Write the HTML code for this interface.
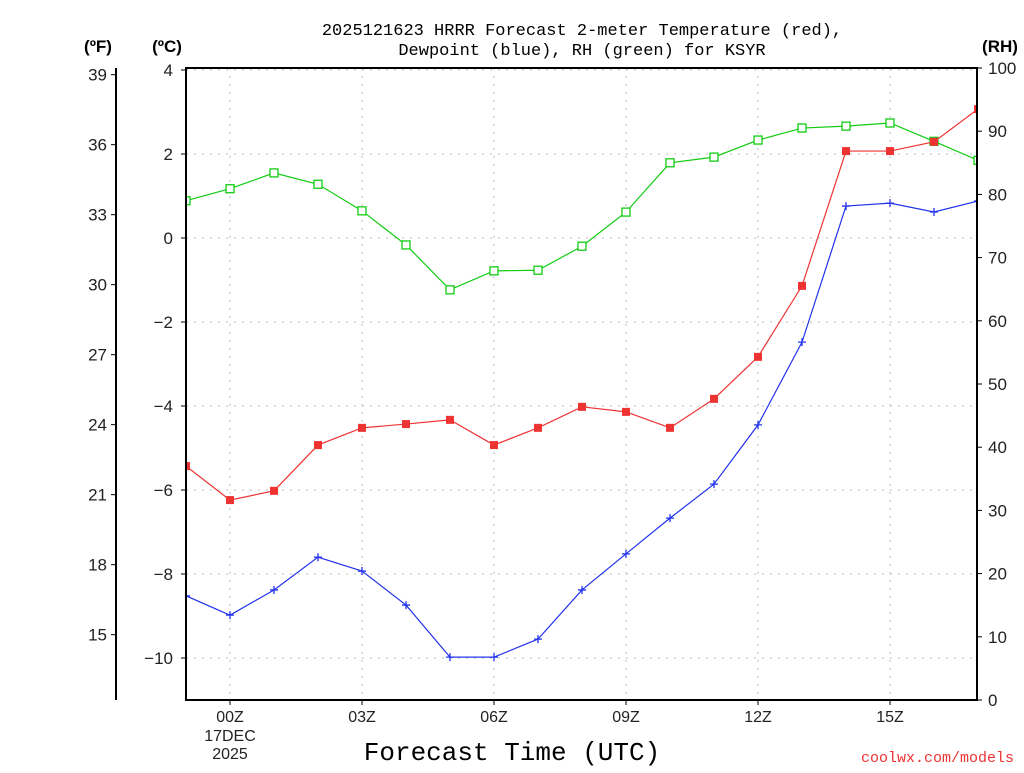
<!DOCTYPE html>
<html><head><meta charset="utf-8"><style>body{margin:0;background:#fff}svg text{font-family:"Liberation Sans","DejaVu Sans",sans-serif}svg text.mono{font-family:"Liberation Mono","DejaVu Sans Mono",monospace}</style></head>
<body>
<svg id="c" width="1024" height="768" xmlns="http://www.w3.org/2000/svg"></svg>
<script>
const hours=[-1,0,1,2,3,4,5,6,7,8,9,10,11,12,13,14,15,16,17];
const tempC=[-5.43,-6.24,-6.02,-4.93,-4.52,-4.43,-4.33,-4.93,-4.52,-4.02,-4.14,-4.52,-3.83,-2.83,-1.14,2.07,2.07,2.29,3.07];
const dewC=[-8.52,-8.98,-8.38,-7.6,-7.93,-8.74,-9.98,-9.98,-9.55,-8.38,-7.52,-6.67,-5.86,-4.45,-2.48,0.76,0.83,0.62,0.88];
const rh=[79.0,80.9,83.4,81.6,77.4,72.0,64.9,67.9,68.0,71.8,77.2,85.0,85.9,88.6,90.5,90.8,91.3,88.4,85.4];
const cTicks=[-10,-8,-6,-4,-2,0,2,4];
const fTicks=[15,18,21,24,27,30,33,36,39];
const rhTicks=[0,10,20,30,40,50,60,70,80,90,100];
const xTicks=[0,3,6,9,12,15];
const xLabels=["00Z","03Z","06Z","09Z","12Z","15Z"];
const L=186,R=977,T=68,B=700;
const X=h=>230+(h)*44;
const YC=c=>238-c*42;
const YF=f=>YC((f-32)*5/9);
const YR=r=>B-r*6.32;
const s=document.getElementById('c');const NS="http://www.w3.org/2000/svg";
function el(t,a,txt,par){const e=document.createElementNS(NS,t);for(const k in a)e.setAttribute(k,a[k]);if(txt!==undefined)e.textContent=txt;(par||s).appendChild(e);return e;}
const d=el('defs',{});const cp=el('clipPath',{id:'cl'},undefined,d);el('rect',{x:L,y:T,width:R-L,height:B-T},undefined,cp);
xTicks.forEach(h=>{const e=el('line',{x1:X(h),x2:X(h),y1:T,y2:B,stroke:'#bbb','stroke-dasharray':'2,6'});});
cTicks.forEach(c=>{const e=el('line',{x1:L,x2:R,y1:YC(c),y2:YC(c),stroke:'#bbb','stroke-dasharray':'2,6'});});
let fa=el('line',{x1:116,x2:116,y1:T,y2:B,stroke:'#000','stroke-width':2});
cTicks.forEach(c=>{el('line',{x1:181,x2:L,y1:YC(c),y2:YC(c),stroke:'#000'});const t=el('text',{x:173,y:YC(c)+6,'text-anchor':'end','font-size':17,fill:'#222'},c<0?'\u2212'+(-c):c);});
fTicks.forEach(v=>{el('line',{x1:111,x2:116,y1:YF(v),y2:YF(v),stroke:'#000'});const t=el('text',{x:107,y:YF(v)+6,'text-anchor':'end','font-size':17,fill:'#222'},v);});
rhTicks.forEach(v=>{el('line',{x1:R,x2:R+5,y1:YR(v),y2:YR(v),stroke:'#000'});const t=el('text',{x:988,y:YR(v)+6,'font-size':17,fill:'#222'},v);});
xTicks.forEach((h,i)=>{el('line',{x1:X(h),x2:X(h),y1:B,y2:B+5,stroke:'#000'});const t=el('text',{x:X(h),y:722,'text-anchor':'middle','font-size':16,fill:'#222'},xLabels[i]);});
[["17DEC",741],["2025",759]].forEach(a=>{const t=el('text',{x:230,y:a[1],'text-anchor':'middle','font-size':16,fill:'#222'},a[0]);});
[["(ºF)",98],["(ºC)",167]].forEach(a=>{const t=el('text',{x:a[1],y:52,'text-anchor':'middle','font-size':17,'font-weight':'bold'},a[0]);});
let u=el('text',{x:1000,y:52,'text-anchor':'middle','font-size':17,'font-weight':'bold'},'(RH)');
let t1=el('text',{x:582,y:35,'text-anchor':'middle','font-size':17,class:'mono'},'2025121623 HRRR Forecast 2-meter Temperature (red),');
let t2=el('text',{x:582,y:55,'text-anchor':'middle','font-size':17,class:'mono'},'Dewpoint (blue), RH (green) for KSYR');
let xt=el('text',{x:512,y:760,'text-anchor':'middle','font-size':26,class:'mono'},'Forecast Time (UTC)');
let cr=el('text',{x:1014,y:762,'text-anchor':'end','font-size':15,fill:'#e33',class:'mono'},'coolwx.com/models');
const g=el('g',{'clip-path':'url(#cl)'});
function series(vals,yf,col,name,mk){
 const p=el('polyline',{points:hours.map((h,i)=>X(h)+','+yf(vals[i])).join(' '),fill:'none',stroke:col,'stroke-width':1.2},undefined,g);
 
 hours.forEach((h,i)=>{const x=X(h),y=yf(vals[i]);let m;
  if(mk==='fill')m=el('rect',{x:x-4,y:y-4,width:8,height:8,fill:col},undefined,g);
  else if(mk==='open')m=el('rect',{x:x-4,y:y-4,width:8,height:8,fill:'#fff',stroke:col,'stroke-width':1.3},undefined,g);
  else m=el('path',{d:`M${x-4} ${y}H${x+4}M${x} ${y-4}V${y+4}`,stroke:col,'stroke-width':1.3},undefined,g);
  });
}
series(rh,YR,'#11cc11','rh','open');
series(tempC,YC,'#ee3333','temperature','fill');
series(dewC,YC,'#2233ee','dewpoint','plus');
let f=el('rect',{x:L,y:T,width:R-L,height:B-T,fill:'none',stroke:'#000','stroke-width':2});
</script>
</body></html>
